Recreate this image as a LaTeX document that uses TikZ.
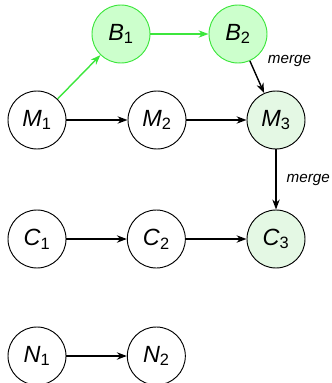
\documentclass[tikz,border=0pt]{standalone}
\usepackage{fontspec}
\setmainfont{Liberation Sans}
\usepackage{xcolor}
\usepackage{tikz}
\usetikzlibrary{arrows.meta,positioning}
\definecolor{mgGreen}{HTML}{3CE63C}
\definecolor{mgGreenFill}{HTML}{CCFFCC}
\definecolor{mgMergeFill}{HTML}{E4F8E4}
\tikzset{
  commit/.style={circle, draw=black, line width=0.8pt, fill=white,
    minimum size=1.74cm, inner sep=0pt,
    font=\fontsize{20}{24}\selectfont},
  branch commit/.style={commit, draw=mgGreen, fill=mgGreenFill},
  merged commit/.style={commit, fill=mgMergeFill},
  hist arc/.style={-{Stealth[length=3mm,width=2.2mm]}, line width=1.2pt,
    draw=black},
  branch arc/.style={hist arc, draw=mgGreen},
  merge label/.style={font=\fontsize{13}{15}\selectfont\itshape}
}
\newcommand{\cname}[2]{\textit{#1}\textsubscript{#2}}

\begin{document}
\begin{tikzpicture}
  \useasboundingbox (0,0) rectangle (9.96,-11.49);
  \node[branch commit] (b1) at (3.63,-1.02) {\cname{B}{1}};
  \node[branch commit] (b2) at (7.14,-1.02) {\cname{B}{2}};
  \node[commit] (m1) at (1.11,-3.6) {\cname{M}{1}};
  \node[commit] (m2) at (4.71,-3.6) {\cname{M}{2}};
  \node[merged commit] (m3) at (8.28,-3.6) {\cname{M}{3}};
  \node[commit] (c1) at (1.11,-7.17) {\cname{C}{1}};
  \node[commit] (c2) at (4.69,-7.17) {\cname{C}{2}};
  \node[merged commit] (c3) at (8.28,-7.17) {\cname{C}{3}};
  \node[commit] (n1) at (1.11,-10.68) {\cname{N}{1}};
  \node[commit] (n2) at (4.69,-10.68) {\cname{N}{2}};
  \draw[branch arc] (m1) -- (b1);
  \draw[branch arc] (b1) -- (b2);
  \draw[hist arc] (m1) -- (m2); \draw[hist arc] (m2) -- (m3);
  \draw[hist arc] (b2) -- node[merge label, pos=0, right=0.4cm] (mgb) {merge} (m3);
  \draw[hist arc] (m3) -- node[merge label, midway, right=0.18cm] (mgc) {merge} (c3);
  \draw[hist arc] (c1) -- (c2); \draw[hist arc] (c2) -- (c3);
  \draw[hist arc] (n1) -- (n2);
\end{tikzpicture}
\end{document}
